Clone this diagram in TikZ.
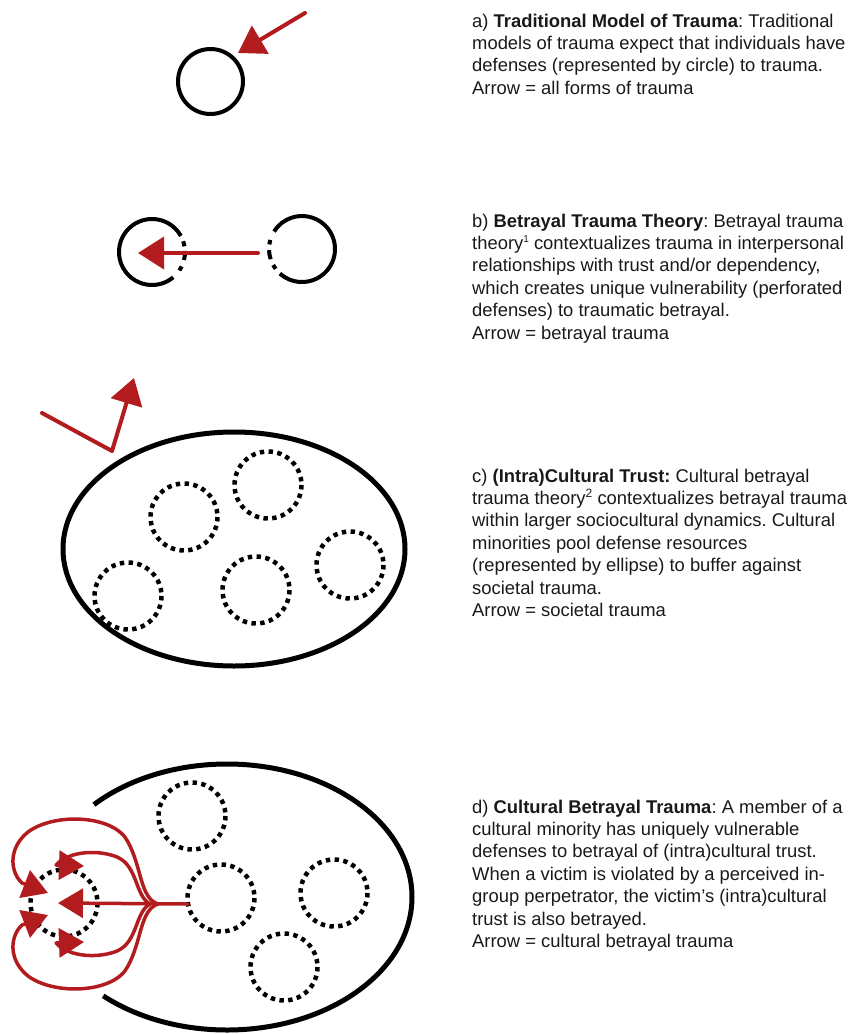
\documentclass[tikz,border=0pt]{standalone}
\usepackage{fontspec}
\setmainfont{Liberation Sans}
\usetikzlibrary{arrows.meta}
\definecolor{tred}{RGB}{178,28,30}
\definecolor{ttext}{RGB}{25,25,25}
\frenchspacing
\newcommand{\paralines}[1]{\vtop{\baselineskip=22.4pt\lineskiplimit=-100pt #1}}
\newcommand{\supnum}[2]{\raisebox{6.5pt}{\fontsize{#1}{#1}\selectfont #2}}
\begin{document}
\begin{tikzpicture}[x=1pt,y=-1pt,
  defense/.style={draw=black, line width=4pt},
  pooled/.style={draw=black, line width=5pt},
  dotring/.style={draw=black, line width=4.5pt, dash pattern=on 4.4pt off 4.4pt},
  trauma/.style={draw=tred, line width=4pt, line cap=round, line join=round, -{Triangle[length=26pt,width=32pt]}},
  traumas/.style={draw=tred, line width=3.5pt, line cap=round, line join=round, -{Triangle[length=25pt,width=29pt]}},
  desc/.style={anchor=base west, inner sep=0pt, text=ttext, font=\fontsize{18.4}{22.4}\selectfont\frenchspacing},
]
\useasboundingbox (0,0) rectangle (861,1034);

% ---------- a) ----------
\coordinate (ac) at (210.5,81.5);
\draw[defense] (ac) circle[radius=32.5];
\coordinate (aS) at (305,13);
\coordinate (aT) at (238,53);
\draw[trauma] (aS) -- (aT);

% ---------- b) ----------
\coordinate (bl) at (152,252);
\coordinate (br) at (302,249);
\draw[defense] (bl) ++(-29:33) arc[start angle=-29, end angle=-310, radius=33];
\draw[defense] (bl) ++(-19:33) arc[start angle=-19, end angle=-10, radius=33];
\draw[defense] (bl) ++(-2:33) arc[start angle=-2, end angle=14, radius=33];
\draw[defense] (bl) ++(26:33) arc[start angle=26, end angle=34, radius=33];
\draw[defense] (br) ++(132:33) arc[start angle=132, end angle=-148, radius=33];
\draw[defense] (br) ++(143:33) arc[start angle=143, end angle=151, radius=33];
\draw[defense] (br) ++(162:33) arc[start angle=162, end angle=178, radius=33];
\draw[defense] (br) ++(188:33) arc[start angle=188, end angle=196, radius=33];
\coordinate (bS) at (258,253);
\coordinate (bT) at (138,253);
\draw[trauma] (bS) -- (bT);

% ---------- c) ----------
\coordinate (cc) at (234,549);
\draw[pooled] (cc) ellipse[x radius=171, y radius=117];
\foreach \x/\y/\n in {184/517/c1,268/485/c2,128/596/c3,256/590/c4,350/565/c5}{
  \coordinate (\n) at (\x,\y);
  \draw[dotring] (\n) circle[radius=33.5];
}
\coordinate (cS) at (42,413);
\coordinate (cK) at (112,451);
\coordinate (cT) at (134,378);
\draw[trauma] (cS) -- (cK) -- (cT);

% ---------- d) ----------
\coordinate (dc) at (227,897);
\draw[pooled] (dc) ++(132:185 and 133) arc[start angle=132, end angle=-136, x radius=185, y radius=133];
\foreach \x/\y/\n in {192/816/d1,221/898/d2,334/893/d3,284/967/d4,64/903/dv}{
  \coordinate (\n) at (\x,\y);
  \draw[dotring] (\n) circle[radius=33.5];
}
\coordinate (dTr) at (188,904);
\coordinate (dBo) at (158,904);
\coordinate (dBi) at (150,904);
\coordinate (dM) at (58,903);
\coordinate (dOU) at (48,893);
\coordinate (dOL) at (48,915);
\coordinate (dIU) at (84,866);
\coordinate (dIL) at (84,942);
\draw[traumas] (dTr) -- (dM);
\draw[traumas] (dBo) .. controls (140,898) and (142,868) .. (128,842)
   .. controls (115,815) and (55,812) .. (28,832)
   .. controls (8,848) and (10,872) .. (22,883) -- (dOU);
\draw[traumas] (dBo) .. controls (140,910) and (142,940) .. (128,966)
   .. controls (115,993) and (55,996) .. (28,976)
   .. controls (8,960) and (10,936) .. (22,925) -- (dOL);
\draw[traumas] (dBi) .. controls (135,896) and (138,866) .. (117,857)
   .. controls (100,850) and (70,850) .. (56,865) -- (dIU);
\draw[traumas] (dBi) .. controls (135,912) and (138,942) .. (117,951)
   .. controls (100,958) and (70,958) .. (56,943) -- (dIL);

% ---------- texts ----------
\node[desc] (ta) at (472,27) {\paralines{%
  \hbox{a) \textbf{Traditional Model of Trauma}: Traditional}
  \hbox{models of trauma expect that individuals have}
  \hbox{defenses (represented by circle) to trauma.}
  \hbox{Arrow = all forms of trauma}}};
\node[desc] (tb) at (472,227) {\paralines{%
  \hbox{b) \textbf{Betrayal Trauma Theory}: Betrayal trauma}
  \hbox{theory\supnum{10}{1} contextualizes trauma in interpersonal}
  \hbox{relationships with trust and/or dependency,}
  \hbox{which creates unique vulnerability (perforated}
  \hbox{defenses) to traumatic betrayal.}
  \hbox{Arrow = betrayal trauma}}};
\node[desc] (tc) at (472,482) {\paralines{%
  \hbox{c) \textbf{(Intra)Cultural Trust:} Cultural betrayal}
  \hbox{trauma theory\supnum{12}{2} contextualizes betrayal trauma}
  \hbox{within larger sociocultural dynamics. Cultural}
  \hbox{minorities pool defense resources}
  \hbox{(represented by ellipse) to buffer against}
  \hbox{societal trauma.}
  \hbox{Arrow = societal trauma}}};
\node[desc] (td) at (472,813) {\paralines{%
  \hbox{d) \textbf{Cultural Betrayal Trauma}: A member of a}
  \hbox{cultural minority has uniquely vulnerable}
  \hbox{defenses to betrayal of (intra)cultural trust.}
  \hbox{When a victim is violated by a perceived in-}
  \hbox{group perpetrator, the victim’s (intra)cultural}
  \hbox{trust is also betrayed.}
  \hbox{Arrow = cultural betrayal trauma}}};
\end{tikzpicture}
\end{document}
